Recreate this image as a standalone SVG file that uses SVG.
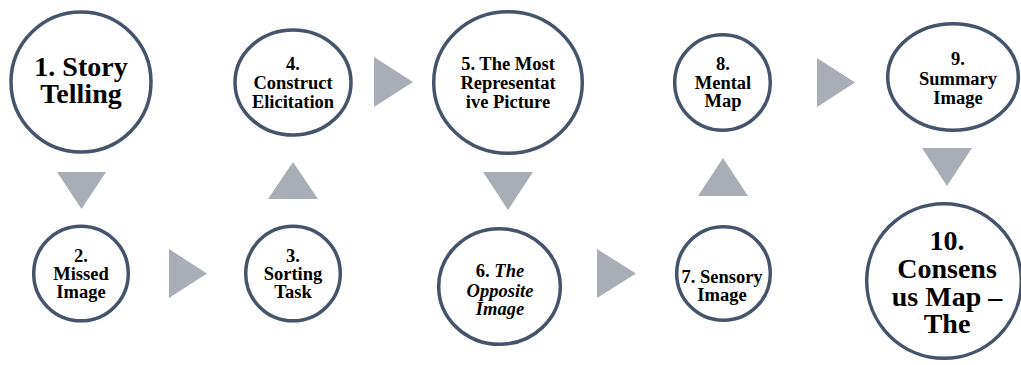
<svg xmlns="http://www.w3.org/2000/svg" width="1021" height="365" viewBox="0 0 1021 365">
  <style>
    .node { fill: #ffffff; stroke: #44546a; stroke-width: 3.5; }
    .arrow { fill: #a9adb6; stroke: none; }
    .sm { font-size: 18.5px; }
    .lg { font-size: 28px; }
    .it { font-style: italic; }
  </style>
  <rect width="1021" height="365" fill="#ffffff"/>

  <!-- flow arrows between steps -->
  <g id="connectors">
    <polygon class="arrow" points="57,172 106,172 81.5,209"/>
    <polygon class="arrow" points="169,249 169,298 207,273.5"/>
    <polygon class="arrow" points="268,199 318,199 293,162"/>
    <polygon class="arrow" points="374,57 374,107 413,82"/>
    <polygon class="arrow" points="483,172 533,172 508,210"/>
    <polygon class="arrow" points="597,249 597,298 636,273.5"/>
    <polygon class="arrow" points="698,196 748,196 723,158"/>
    <polygon class="arrow" points="817,58 817,107 855,82.5"/>
    <polygon class="arrow" points="922,148 972,148 947,186"/>
  </g>

  <g font-family="'Liberation Serif', 'Times New Roman', serif" font-weight="bold" text-anchor="middle" fill="#000000">
    <g id="step1">
      <circle class="node" cx="81" cy="82" r="70"/>
      <text class="lg" x="81" y="76">1. Story</text>
      <text class="lg" x="81" y="103">Telling</text>
    </g>

    <g id="step2">
      <circle class="node" cx="81" cy="273.5" r="47.3"/>
      <text class="sm" x="81" y="262">2.</text>
      <text class="sm" x="81" y="280">Missed</text>
      <text class="sm" x="81" y="298">Image</text>
    </g>

    <g id="step3">
      <circle class="node" cx="293" cy="273.5" r="47.3"/>
      <text class="sm" x="293" y="262">3.</text>
      <text class="sm" x="293" y="280">Sorting</text>
      <text class="sm" x="293" y="298">Task</text>
    </g>

    <g id="step4">
      <ellipse class="node" cx="293" cy="82.5" rx="58" ry="52.5"/>
      <text class="sm" x="293" y="70">4.</text>
      <text class="sm" x="293" y="89">Construct</text>
      <text class="sm" x="293" y="108">Elicitation</text>
    </g>

    <g id="step5">
      <ellipse class="node" cx="508" cy="82.5" rx="74.3" ry="70.8"/>
      <text class="sm" x="508" y="70">5. The Most</text>
      <text class="sm" x="508" y="89">Representat</text>
      <text class="sm" x="508" y="108">ive Picture</text>
    </g>

    <g id="step6">
      <ellipse class="node" cx="499.5" cy="286.5" rx="60.8" ry="57.8"/>
      <text class="sm" x="500" y="277">6. <tspan class="it">The</tspan></text>
      <text class="sm it" x="500" y="296.5">Opposite</text>
      <text class="sm it" x="500" y="315">Image</text>
    </g>

    <g id="step7">
      <circle class="node" cx="723.5" cy="273.5" r="46.8"/>
      <text class="sm" x="722" y="283">7. Sensory</text>
      <text class="sm" x="722" y="300.5">Image</text>
    </g>

    <g id="step8">
      <circle class="node" cx="722.5" cy="82.5" r="47.8"/>
      <text class="sm" x="723" y="70">8.</text>
      <text class="sm" x="723" y="89">Mental</text>
      <text class="sm" x="723" y="107">Map</text>
    </g>

    <g id="step9">
      <ellipse class="node" cx="953" cy="77" rx="65.3" ry="53.3"/>
      <text class="sm" x="958" y="65">9.</text>
      <text class="sm" x="958" y="85">Summary</text>
      <text class="sm" x="958" y="103.5">Image</text>
    </g>

    <g id="step10">
      <circle class="node" cx="944" cy="281" r="77.3"/>
      <text class="lg" x="947" y="250">10.</text>
      <text class="lg" x="947" y="278">Consens</text>
      <text class="lg" x="947" y="305.5">us Map –</text>
      <text class="lg" x="947" y="333">The</text>
    </g>
  </g>
</svg>
